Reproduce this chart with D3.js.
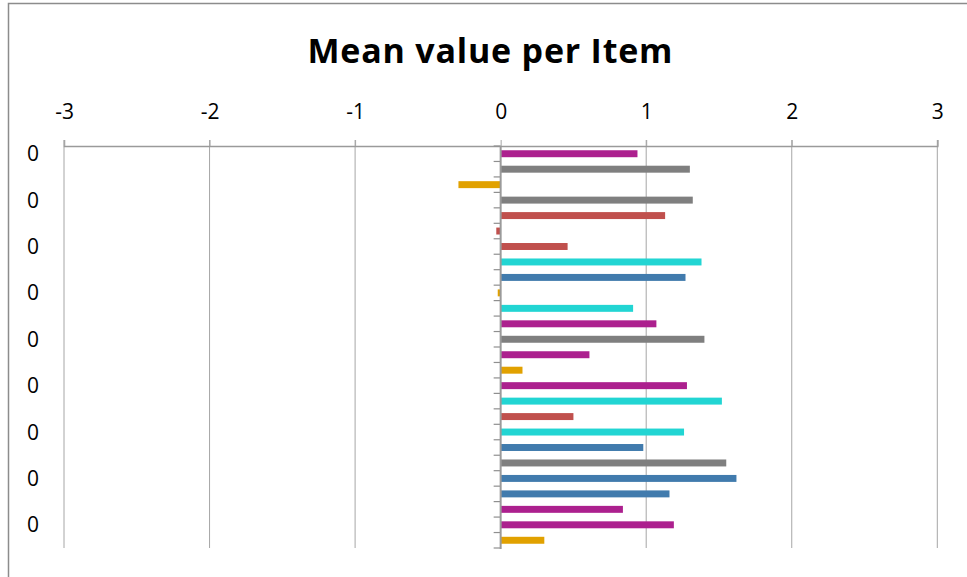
<!DOCTYPE html>
<html>
<head>
<meta charset="utf-8">
<script src="https://cdn.jsdelivr.net/npm/d3@7"></script>
<style>
  html, body { margin: 0; padding: 0; background: #fff; }
  svg { display: block; }
  text { font-family: "Open Sans", Lato, sans-serif; fill: #000; }
</style>
</head>
<body>
<svg id="chart" width="967" height="577"></svg>
<script>
// ---- data ----
const chartTitle = "Mean value per Item";
const itemLabels = ["0","0","0","0","0","0","0","0","0","0","0","0","0",
                    "0","0","0","0","0","0","0","0","0","0","0","0","0"];
const meanValues = [0.94, 1.30, -0.29, 1.32, 1.13, -0.03, 0.46, 1.38, 1.27, -0.02,
                    0.91, 1.07, 1.40, 0.61, 0.15, 1.28, 1.52, 0.50, 1.26, 0.98,
                    1.55, 1.62, 1.16, 0.84, 1.19, 0.30];
const colorGroup = ["m","g","o","g","r","r","r","c","b","o",
                    "c","m","g","m","o","m","c","r","c","b",
                    "g","b","b","m","m","o"];
const valueTicks = [-3, -2, -1, 0, 1, 2, 3];

const palette = { m: "#AC208E", g: "#7F7F7F", o: "#E1A100", r: "#C0504D", c: "#22D5D3", b: "#417BAD" };

// ---- layout ----
const svg = d3.select("#chart");
const plot = { left: 64, right: 937.3, top: 146, bottom: 548 };

// outer chart frame
svg.append("rect")
  .attr("x", 8.5).attr("y", 3.5).attr("width", 1000).attr("height", 700)
  .attr("fill", "none").attr("stroke", "#8c8c8c").attr("stroke-width", 1.5);

const x = d3.scaleLinear().domain([-3, 3]).range([plot.left, plot.right]);
const idx = d3.range(itemLabels.length);
const y = d3.scaleBand().domain(idx).range([plot.top, plot.bottom])
  .paddingInner(0.55).paddingOuter(0.275);

// title (fitted to the reference width with letter spacing)
const title = svg.append("text")
  .attr("x", 490).attr("y", 63)
  .attr("text-anchor", "middle")
  .style("font-size", "34px").style("font-weight", "bold")
  .text(chartTitle);
const tLen = title.node().getComputedTextLength();
const ls = (365 - tLen) / (chartTitle.length - 1);
title.style("letter-spacing", ls + "px").attr("x", 490 + ls / 2);

// vertical gridlines
svg.append("g").selectAll("line").data(valueTicks.filter(d => d !== 0)).join("line")
  .attr("x1", d => x(d)).attr("x2", d => x(d))
  .attr("y1", plot.top - 6).attr("y2", plot.bottom)
  .attr("stroke", "#a6a6a6").attr("stroke-width", 1);

// top value axis
const xAxis = d3.axisTop(x).tickValues(valueTicks).tickSize(6).tickFormat(d3.format("d"));
const gx = svg.append("g").attr("transform", `translate(0,${plot.top})`).call(xAxis);
gx.select(".domain").attr("stroke", "#9a9a9a").attr("stroke-width", 1.5);
gx.selectAll(".tick line").attr("stroke", "#a6a6a6");
gx.selectAll(".tick text")
  .attr("y", -27).attr("dy", 0)
  .style("font-size", "21px").style("font-family", "'Open Sans', sans-serif")
  .text(d => d < 0 ? "-" + Math.abs(d) : d);

// bars
svg.append("g").selectAll("rect").data(idx).join("rect")
  .attr("x", i => x(Math.min(0, meanValues[i])))
  .attr("width", i => Math.abs(x(meanValues[i]) - x(0)))
  .attr("y", i => y(i))
  .attr("height", y.bandwidth())
  .attr("fill", i => palette[colorGroup[i]]);

// category axis at zero (ticks at band boundaries)
const step = y.step();
const boundaries = d3.range(itemLabels.length + 1).map(k => plot.top + k * step);
svg.append("g").selectAll("line").data(boundaries).join("line")
  .attr("x1", x(0) - 7).attr("x2", x(0))
  .attr("y1", d => d).attr("y2", d => d)
  .attr("stroke", "#8f8f8f").attr("stroke-width", 1.2);
svg.append("line")
  .attr("x1", x(0)).attr("x2", x(0))
  .attr("y1", plot.top).attr("y2", plot.bottom + 1)
  .attr("stroke", "#9a9a9a").attr("stroke-width", 2);

// category labels (every third shown, placed at low side)
svg.append("g").selectAll("text").data(idx.filter(i => i % 3 === 0)).join("text")
  .attr("x", 39).attr("y", i => y(i) + y.bandwidth() / 2)
  .attr("dy", "0.36em")
  .attr("text-anchor", "end")
  .style("font-size", "21px")
  .text(i => itemLabels[i]);
</script>
</body>
</html>
